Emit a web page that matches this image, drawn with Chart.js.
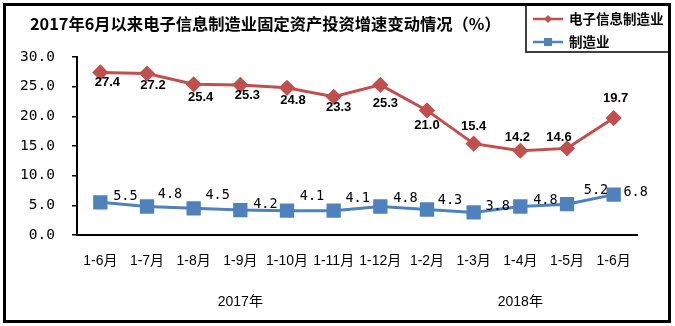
<!DOCTYPE html>
<html>
<head>
<meta charset="utf-8">
<script src="https://cdn.jsdelivr.net/npm/chart.js@4/dist/chart.umd.min.js"></script>
<style>
html, body { margin: 0; padding: 0; background: #fff; }
#contenedor { position: relative; width: 675px; height: 326px; }
</style>
</head>
<body>
<div id="contenedor"><canvas id="grafico-lineas" width="675" height="326"></canvas></div>
<script>
// Datos del gráfico
const meses = ['1-6月', '1-7月', '1-8月', '1-9月', '1-10月', '1-11月', '1-12月', '1-2月', '1-3月', '1-4月', '1-5月', '1-6月'];
const anios = ['2017年', '2018年'];
const grupoAnio = [0, 0, 0, 0, 0, 0, 0, 1, 1, 1, 1, 1];
const electronica = [27.4, 27.2, 25.4, 25.3, 24.8, 23.3, 25.3, 21.0, 15.4, 14.2, 14.6, 19.7];
const manufactura = [5.5, 4.8, 4.5, 4.2, 4.1, 4.1, 4.8, 4.3, 3.8, 4.8, 5.2, 6.8];
const nombres = ['电子信息制造业', '制造业'];
const titulo = '2017年6月以来电子信息制造业固定资产投资增速变动情况（%）';

// Desplazamiento de cada etiqueta respecto a su punto (px)
const despElectronica = [[7, 10], [6, 12], [7, 13], [7, 11], [6, 13], [5, 11], [5, 19], [0, 15], [0, -17], [-3, -13], [-8, -11], [2, -20]];
const despManufactura = [[25, -6], [23, -12], [24, -13], [25, -6], [25, -14], [24, -12], [25, -8], [23, -9], [24, -6], [25, -6], [29, -14], [22, -2]];

const ROJO = '#C0504D';
const AZUL = '#4F81BD';
const fuenteMono = '"DejaVu Sans Mono", "Liberation Mono", monospace';
const fuenteSans = '"Liberation Sans", "Noto Sans CJK SC", sans-serif';
const fuenteCJK = '"Noto Sans CJK SC", "Liberation Sans", sans-serif';

// Etiquetas de valor sobre cada punto
const etiquetasPlugin = {
    id: 'etiquetas',
    afterDatasetsDraw(chart) {
        const ctx = chart.ctx;
        chart.data.datasets.forEach(function (ds, i) {
            const meta = chart.getDatasetMeta(i);
            ctx.save();
            ctx.font = ds.fuenteEtiqueta;
            ctx.fillStyle = '#000';
            ctx.textAlign = 'center';
            ctx.textBaseline = 'middle';
            meta.data.forEach(function (p, j) {
                const d = ds.desplazamientos[j];
                ctx.fillText(ds.data[j].toFixed(1), p.x + d[0], p.y + d[1]);
            });
            ctx.restore();
        });
    }
};

// Años debajo de los meses, centrados en su grupo
const aniosPlugin = {
    id: 'anios',
    afterDraw(chart) {
        const ctx = chart.ctx;
        const x = chart.scales.x;
        ctx.save();
        ctx.font = '14px ' + fuenteSans;
        ctx.fillStyle = '#000';
        ctx.textAlign = 'center';
        ctx.textBaseline = 'middle';
        anios.forEach(function (anio, g) {
            let suma = 0, n = 0;
            grupoAnio.forEach(function (gr, j) {
                if (gr === g) { suma += x.getPixelForValue(j); n++; }
            });
            ctx.fillText(anio, suma / n, 302);
        });
        ctx.restore();
    }
};

// Marco, título y leyenda
const marcoPlugin = {
    id: 'marco',
    afterDraw(chart) {
        const ctx = chart.ctx;
        ctx.save();
        ctx.fillStyle = '#000';
        ctx.font = 'bold 16.3px ' + fuenteCJK;
        ctx.textBaseline = 'middle';
        ctx.textAlign = 'left';
        ctx.fillText(titulo, 30, 24);

        // caja de la leyenda
        ctx.strokeStyle = '#000';
        ctx.lineWidth = 1.5;
        ctx.strokeRect(526, 4, 143, 48);

        const filas = [
            { color: ROJO, y: 19, estilo: 'diamante' },
            { color: AZUL, y: 42, estilo: 'cuadro' }
        ];
        filas.forEach(function (f, i) {
            ctx.strokeStyle = f.color;
            ctx.fillStyle = f.color;
            ctx.lineWidth = 2.5;
            ctx.beginPath();
            ctx.moveTo(533, f.y);
            ctx.lineTo(563, f.y);
            ctx.stroke();
            if (f.estilo === 'diamante') {
                ctx.beginPath();
                ctx.moveTo(548, f.y - 4);
                ctx.lineTo(552, f.y);
                ctx.lineTo(548, f.y + 4);
                ctx.lineTo(544, f.y);
                ctx.closePath();
                ctx.fill();
            } else {
                ctx.fillRect(544, f.y - 4, 8, 8);
            }
            ctx.fillStyle = '#000';
            ctx.font = 'bold 13.5px ' + fuenteCJK;
            ctx.fillText(nombres[i], 569, f.y);
        });

        // borde exterior
        ctx.strokeStyle = '#000';
        ctx.lineWidth = 3;
        ctx.strokeRect(4.5, 4.5, 665, 317);
        ctx.restore();
    }
};

const ctxLineas = document.getElementById('grafico-lineas').getContext('2d');
const graficoLineas = new Chart(ctxLineas, {
    type: 'line',
    data: {
        labels: meses,
        datasets: [{
            label: nombres[0],
            data: electronica,
            borderColor: ROJO,
            backgroundColor: ROJO,
            borderWidth: 3,
            pointStyle: 'rectRot',
            pointRadius: 6,
            tension: 0,
            desplazamientos: despElectronica,
            fuenteEtiqueta: 'bold 13px ' + fuenteSans
        }, {
            label: nombres[1],
            data: manufactura,
            borderColor: AZUL,
            backgroundColor: AZUL,
            borderWidth: 3,
            pointStyle: 'rect',
            pointRadius: 8,
            tension: 0,
            desplazamientos: despManufactura,
            fuenteEtiqueta: '13.5px ' + fuenteMono
        }]
    },
    options: {
        responsive: false,
        animation: false,
        layout: { padding: { top: 57, right: 38, left: 0, bottom: 0 } },
        plugins: {
            legend: { display: false },
            title: { display: false },
            tooltip: { enabled: false }
        },
        scales: {
            x: {
                offset: true,
                grid: { display: false, drawTicks: false },
                border: { color: '#000', width: 2 },
                ticks: {
                    color: '#000',
                    padding: 18,
                    maxRotation: 0,
                    autoSkip: false,
                    font: { family: fuenteSans, size: 14 }
                },
                afterFit: function (escala) { escala.height = 91; }
            },
            y: {
                min: 0,
                max: 30,
                grid: { drawOnChartArea: false, color: '#000', tickLength: 5, lineWidth: 1.5 },
                border: { color: '#000', width: 2 },
                ticks: {
                    stepSize: 5,
                    color: '#000',
                    padding: 17,
                    font: { family: fuenteMono, size: 14.5 },
                    callback: function (valor) { return valor.toFixed(1); }
                },
                afterFit: function (escala) { escala.width = 77; }
            }
        }
    },
    plugins: [etiquetasPlugin, aniosPlugin, marcoPlugin]
});
</script>
</body>
</html>
